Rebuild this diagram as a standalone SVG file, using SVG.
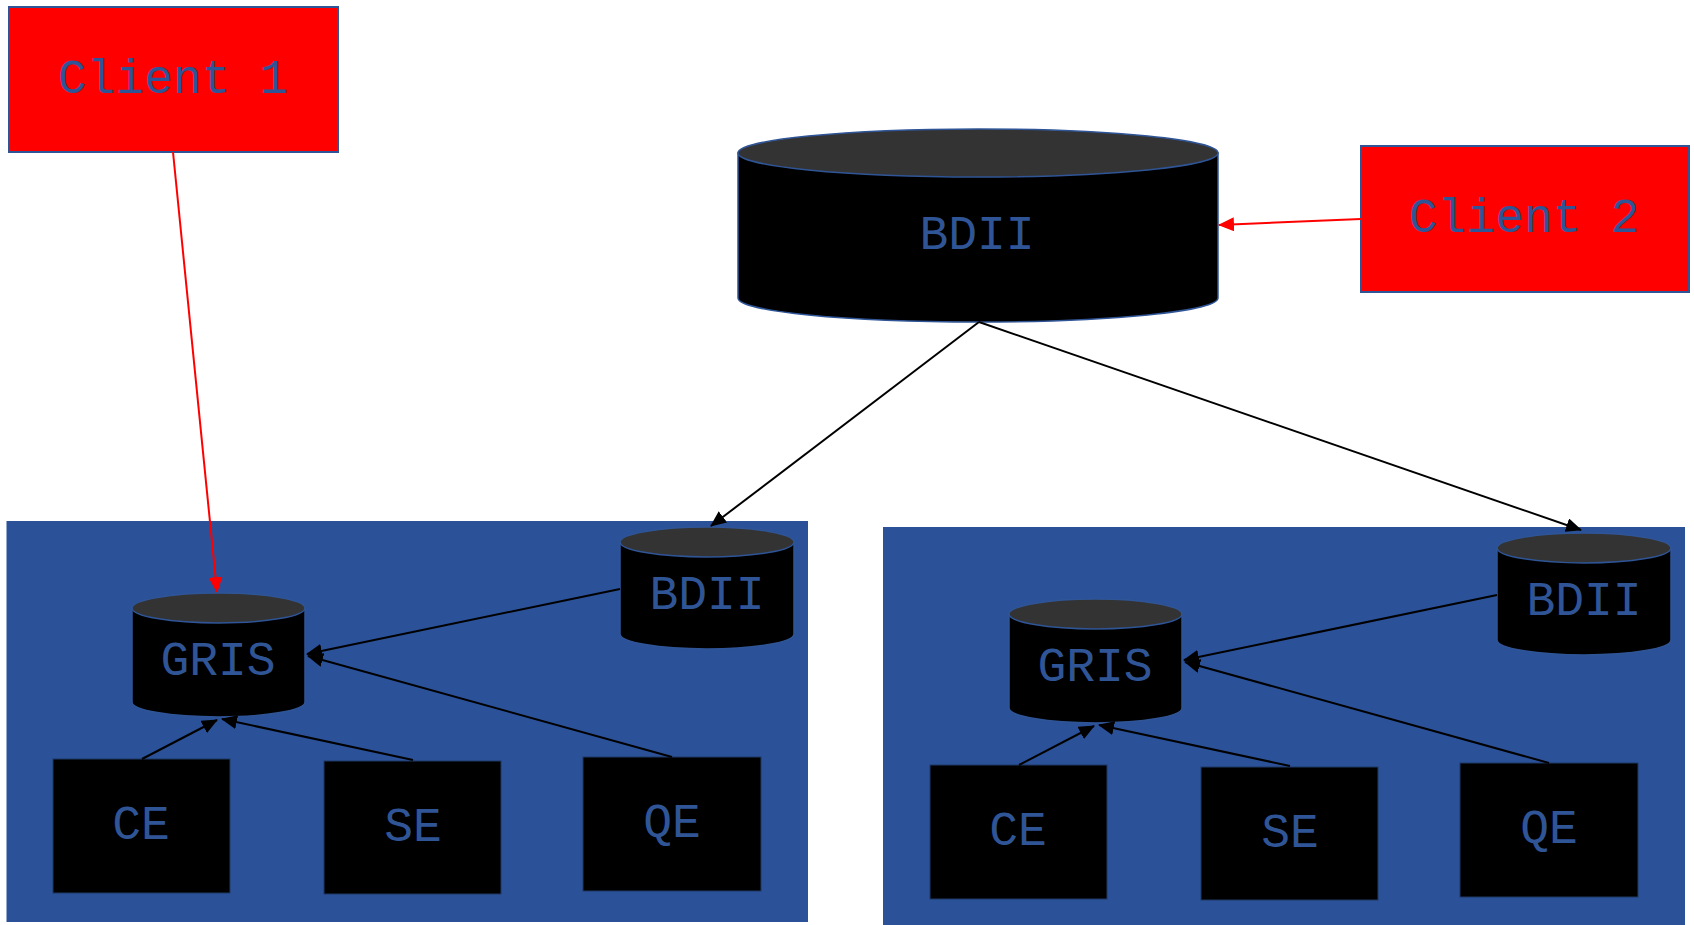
<svg xmlns="http://www.w3.org/2000/svg" width="1694" height="925" viewBox="0 0 1694 925">
<style>
.lbl{font-family:"Liberation Mono","Courier New",monospace;font-size:48px;fill:#2F5597;text-anchor:middle}
.client{fill:#FF0000;stroke:#2F5597;stroke-width:2}
.cont{fill:#2B5199}
.box{fill:#000000;stroke:#1F3864;stroke-width:1}
.body{fill:#000000;stroke:#2F5597;stroke-width:1.5}
.top{fill:#333333;stroke:#2F5597;stroke-width:1.5}
.blk{stroke:#000000;stroke-width:2;fill:none;marker-end:url(#ah)}
.red{stroke:#FF0000;stroke-width:2;fill:none;marker-end:url(#ahr)}
</style>
<defs>
<marker id="ah" markerUnits="userSpaceOnUse" markerWidth="16" markerHeight="14" refX="15" refY="7" orient="auto"><path d="M0,0 L16,7 L0,14 z" fill="#000"/></marker>
<marker id="ahr" markerUnits="userSpaceOnUse" markerWidth="16" markerHeight="14" refX="15" refY="7" orient="auto"><path d="M0,0 L16,7 L0,14 z" fill="#FF0000"/></marker>
</defs>
<rect width="1694" height="925" fill="#FFFFFF"/>
<g id="site1">
<rect class="cont" x="6.5" y="521" width="801.5" height="401"/>
</g>
<g id="site2">
<rect class="cont" x="883" y="527" width="802" height="398"/>
</g>
<g id="client1"><rect class="client" x="9" y="7" width="329" height="145"/><text class="lbl" x="173" y="93">Client 1</text></g>
<g id="client2"><rect class="client" x="1361" y="146" width="328" height="146"/><text class="lbl" x="1524" y="232">Client 2</text></g>
<g id="bdii-top">
<path class="body" d="M738,153 L738,298 A240,24 0 0 0 1218,298 L1218,153 Z"/>
<ellipse class="top" cx="978" cy="153" rx="240" ry="24"/>
<text class="lbl" x="977" y="249">BDII</text>
</g>
<g id="gris1">
<path class="body" d="M132,608 L132,702 A86.5,15 0 0 0 305,702 L305,608 Z"/>
<ellipse class="top" cx="218.5" cy="608" rx="86.5" ry="15"/>
<text class="lbl" x="218" y="675">GRIS</text>
</g>
<g id="bdii1">
<path class="body" d="M620,542 L620,634 A87,15 0 0 0 794,634 L794,542 Z"/>
<ellipse class="top" cx="707" cy="542" rx="87" ry="15"/>
<text class="lbl" x="707" y="609">BDII</text>
</g>
<g id="ce1"><rect class="box" x="53" y="759" width="177" height="134"/><text class="lbl" x="141" y="839">CE</text></g>
<g id="se1"><rect class="box" x="324" y="761" width="177" height="133"/><text class="lbl" x="413" y="841">SE</text></g>
<g id="qe1"><rect class="box" x="583" y="757" width="178" height="134"/><text class="lbl" x="672" y="837">QE</text></g>
<g id="gris2">
<path class="body" d="M1009,614 L1009,708 A86.5,15 0 0 0 1182,708 L1182,614 Z"/>
<ellipse class="top" cx="1095.5" cy="614" rx="86.5" ry="15"/>
<text class="lbl" x="1095" y="681">GRIS</text>
</g>
<g id="bdii2">
<path class="body" d="M1497,548 L1497,640 A87,15 0 0 0 1671,640 L1671,548 Z"/>
<ellipse class="top" cx="1584" cy="548" rx="87" ry="15"/>
<text class="lbl" x="1584" y="615">BDII</text>
</g>
<g id="ce2"><rect class="box" x="930" y="765" width="177" height="134"/><text class="lbl" x="1018" y="845">CE</text></g>
<g id="se2"><rect class="box" x="1201" y="767" width="177" height="133"/><text class="lbl" x="1290" y="847">SE</text></g>
<g id="qe2"><rect class="box" x="1460" y="763" width="178" height="134"/><text class="lbl" x="1549" y="843">QE</text></g>
<g id="connectors">
<line class="red" x1="173" y1="152" x2="217" y2="592"/>
<line class="red" x1="1361" y1="219" x2="1219" y2="225"/>
<line class="blk" x1="979" y1="322" x2="711" y2="526"/>
<line class="blk" x1="979" y1="322" x2="1581" y2="530"/>
<line class="blk" x1="620" y1="589" x2="307" y2="654"/>
<line class="blk" x1="672" y1="757" x2="308" y2="656"/>
<line class="blk" x1="142" y1="759" x2="217" y2="720"/>
<line class="blk" x1="413" y1="760" x2="222" y2="719"/>
<line class="blk" x1="1497" y1="595" x2="1184" y2="660"/>
<line class="blk" x1="1549" y1="763" x2="1185" y2="662"/>
<line class="blk" x1="1019" y1="765" x2="1094" y2="726"/>
<line class="blk" x1="1290" y1="766" x2="1099" y2="725"/>
</g>
</svg>
